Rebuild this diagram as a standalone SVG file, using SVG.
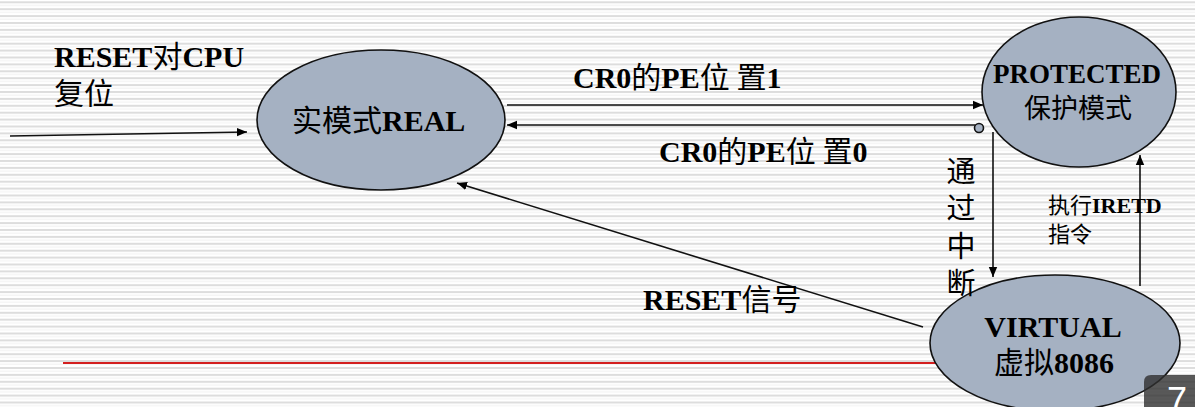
<svg xmlns="http://www.w3.org/2000/svg" width="1195" height="407" viewBox="0 0 1195 407">
<defs>
<pattern id="stripes" patternUnits="userSpaceOnUse" x="0" y="1.3" width="20" height="6.9">
<rect x="0" y="0" width="20" height="6.9" fill="#ffffff"/>
<rect x="0" y="0" width="20" height="2" fill="#dddddd"/>
<rect x="0" y="3.6" width="20" height="1" fill="#f1f1f1"/>
</pattern>
<marker id="arr" viewBox="0 0 10 10" refX="10" refY="5" markerWidth="10" markerHeight="10" markerUnits="userSpaceOnUse" orient="auto">
<path d="M0,0.8 L10,5 L0,9.2 Z" fill="#000"/>
</marker>
</defs>
<style>
.node{fill:#a5b1c2;stroke:#111;stroke-width:1.6}
.edge{stroke:#111;stroke-width:1.6;fill:none}
.t{font-family:"Liberation Serif","Noto Sans CJK SC",serif;font-weight:bold;fill:#000}
.cj{font-family:"Noto Sans CJK SC",sans-serif;font-weight:normal}
</style>
<rect x="0" y="0" width="1195" height="407" fill="url(#stripes)"/>
<line x1="63" y1="363" x2="960" y2="363" stroke="#d42020" stroke-width="2.2"/>
<g id="connectors">
<line class="edge" x1="10" y1="136" x2="247" y2="132" marker-end="url(#arr)"/>
<line class="edge" x1="507" y1="105" x2="983" y2="105" marker-end="url(#arr)"/>
<line class="edge" x1="975" y1="125" x2="507" y2="125" marker-end="url(#arr)"/>
<circle cx="979" cy="128" r="4.5" fill="#a5b1c2" stroke="#111" stroke-width="1.6"/>
<line class="edge" x1="993" y1="132" x2="993" y2="277" marker-end="url(#arr)"/>
<line class="edge" x1="1140" y1="286" x2="1140" y2="155" marker-end="url(#arr)"/>
<line class="edge" x1="923" y1="327" x2="457" y2="183" marker-end="url(#arr)"/>
</g>
<g id="real">
<ellipse class="node" cx="381" cy="120" rx="124" ry="70"/>
<text class="t" x="292" y="131" font-size="30"><tspan class="cj">实模式</tspan>REAL</text>
</g>
<g id="protected">
<ellipse class="node" cx="1079" cy="92" rx="97" ry="75"/>
<text class="t" x="1077" y="83" font-size="27" text-anchor="middle">PROTECTED</text>
<text class="t cj" x="1078" y="118" font-size="27" text-anchor="middle">保护模式</text>
</g>
<g id="virtual">
<ellipse class="node" cx="1055" cy="343" rx="125" ry="68"/>
<text class="t" x="1053" y="337" font-size="30" text-anchor="middle">VIRTUAL</text>
<text class="t" x="1054" y="373" font-size="30" text-anchor="middle"><tspan class="cj">虚拟</tspan>8086</text>
</g>
<g id="labels">
<text class="t" x="54" y="67" font-size="30">RESET<tspan class="cj">对</tspan>CPU</text>
<text class="t cj" x="54" y="104" font-size="30">复位</text>
<text class="t" x="573" y="88" font-size="30">CR0<tspan class="cj">的</tspan>PE<tspan class="cj">位 置</tspan>1</text>
<text class="t" x="659" y="162" font-size="30">CR0<tspan class="cj">的</tspan>PE<tspan class="cj">位 置</tspan>0</text>
<text class="t cj" x="961" y="156" font-size="29" writing-mode="tb" letter-spacing="8.5">通过中断</text>
<text class="t" x="1048" y="213" font-size="22"><tspan class="cj">执行</tspan>IRETD</text>
<text class="t cj" x="1048" y="242" font-size="22">指令</text>
<text class="t" x="643" y="310" font-size="30">RESET<tspan class="cj">信号</tspan></text>
</g>
<g id="page-number">
<path d="M1144,407 L1144,382 Q1144,375 1151,375 L1195,375 L1195,407 Z" fill="#2f2f2f" fill-opacity="0.8"/>
<text x="1167" y="413" font-family="Liberation Sans, sans-serif" font-size="36" fill="#ffffff">7</text>
</g>
</svg>
